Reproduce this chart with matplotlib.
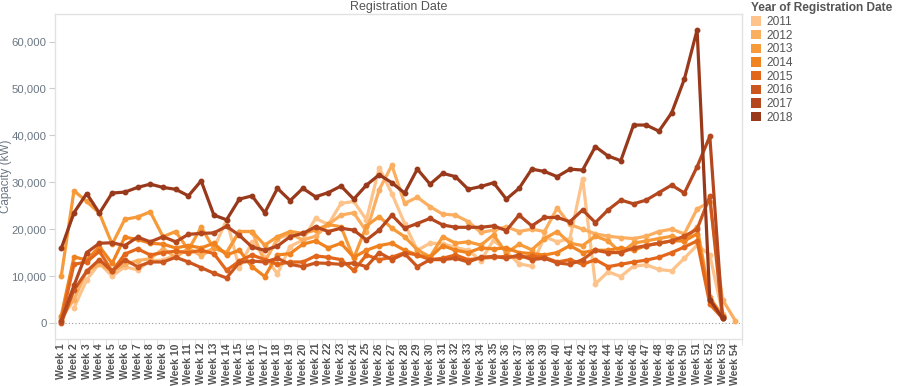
import numpy as np
import matplotlib.pyplot as plt
from matplotlib.patches import Patch

plt.rcParams['font.family'] = ['Liberation Sans', 'DejaVu Sans']

# --- data ---
weeks = np.arange(1, 55)
week_labels = [f"Week {w}" for w in weeks]
years = ["2011", "2012", "2013", "2014", "2015", "2016", "2017", "2018"]
colors = ["#fdc38a", "#fbae60", "#f79a3a", "#f0821f", "#e2671a", "#cc571e", "#b4471e", "#99391b"]

N = np.nan
cap_2011 = [N, 3200, 9200, 12700, 10000, 12000, 11300, 13300, 13400, 14500,
            15500, 14800, 15900, 22000, 11700, 17300, 14100, 10500, 16300, 17700,
            22300, 21000, 25500, 25900, 22000, 33100, 27600, 21200, 15500, 17000,
            16900, 16100, 15500, 13300, 17700, 15200, 12600, 12100, 18400, 17300,
            18000, 30800, 8300, 10900, 9900, 12100, 12400, 11400, 11100, 13800,
            16600, 14500, 2000, N]
cap_2012 = [1000, 5000, 11000, 12500, 11000, 12500, 13300, 13700, 15800, 14000,
            16000, 14300, 16000, 15000, 19500, 19500, 13000, 18000, 19000, 17700,
            18500, 21000, 23000, 23500, 19500, 28400, 33600, 25500, 26800, 24800,
            23200, 23000, 21600, 19300, 19800, 20500, 19500, 20000, 19500, 24500,
            21000, 20000, 19000, 18500, 18200, 18000, 18500, 19500, 20000, 19000,
            24300, 25800, 5000, 500]
cap_2013 = [10000, 28200, 25900, 23400, 16800, 22100, 22600, 23700, 18400, 19500,
            15600, 20400, 15900, 15000, 19500, 19500, 16600, 18400, 19500, 19100,
            19800, 21000, 20500, 13800, 20700, 22700, 20200, 18400, 15600, 14100,
            18400, 17000, 17300, 16600, 18800, 14900, 16800, 15600, 18000, 19500,
            17000, 16500, 18500, 17500, 15000, 17000, 17500, 18000, 18500, 17500,
            20500, 5500, 1500, N]
cap_2014 = [1500, 14100, 13400, 16300, 12700, 18300, 17800, 17000, 16800, 16000,
            16500, 16000, 17000, 14500, 15500, 12000, 9900, 14500, 14800, 16800,
            17500, 16000, 17000, 14000, 15500, 16500, 17000, 15500, 14500, 14000,
            16500, 15500, 15000, 16000, 15800, 16000, 15000, 14800, 14500, 15000,
            16500, 15000, 15500, 15500, 16000, 15500, 16500, 17000, 17500, 17500,
            19000, 5000, 1500, N]
cap_2015 = [500, 12500, 13000, 15300, 11000, 14700, 15800, 14500, 15000, 15300,
            15000, 15500, 14800, 11200, 13200, 14500, 13500, 12500, 13000, 13000,
            14300, 14000, 13500, 11200, 14500, 13500, 14000, 15000, 14500, 13500,
            13800, 14500, 13500, 13800, 14000, 14200, 14000, 14200, 14000, 13000,
            13500, 12500, 13500, 12000, 12500, 13000, 13400, 14000, 15000, 16200,
            17500, 4000, 1000, N]
cap_2016 = [0, 7000, 11000, 13500, 11000, 13500, 12000, 13000, 13000, 14000,
            13000, 11800, 10600, 9600, 12900, 13200, 13000, 13800, 12500, 12000,
            12800, 12700, 12500, 12800, 12000, 15000, 13500, 14800, 12000, 13500,
            13500, 13800, 13000, 14000, 14200, 13800, 14500, 13500, 13800, 12800,
            12500, 13500, 15500, 15000, 15000, 16000, 16500, 17000, 17500, 18500,
            20000, 27000, 1000, N]
cap_2017 = [500, 8000, 15000, 17000, 17100, 16500, 18300, 17300, 18400, 17300,
            18900, 19100, 19200, 20600, 18700, 16200, 15500, 16400, 18400, 19100,
            20500, 19500, 20200, 19800, 17700, 19800, 23000, 20200, 21200, 22300,
            20900, 20400, 20400, 20400, 20700, 19700, 23000, 20700, 22500, 22500,
            21600, 24100, 21400, 24100, 26200, 25400, 26200, 27800, 29400, 27700,
            33300, 39800, 1300, N]
cap_2018 = [15900, 23500, 27600, 23400, 27700, 27900, 28900, 29600, 28900, 28500,
            27100, 30300, 23000, 22000, 26400, 27100, 23500, 28700, 26100, 28700,
            26900, 27800, 29200, 26400, 29400, 31600, 29900, 27700, 32800, 29600,
            31900, 31200, 28500, 29100, 29900, 26400, 28700, 32800, 32300, 31200,
            32800, 32600, 37600, 35600, 34600, 42200, 42200, 40900, 44800, 52000,
            62500, 5000, 1000, N]

series = [cap_2011, cap_2012, cap_2013, cap_2014, cap_2015, cap_2016, cap_2017, cap_2018]

fig = plt.figure(figsize=(9, 3.86), dpi=100)
ax = fig.add_axes([0.061, 0.122, 0.763, 0.842])

for yr, vals, c in zip(years, series, colors):
    ax.plot(weeks, vals, color=c, lw=2.3, marker='o', ms=3.2, solid_joinstyle='round')

ax.axhline(0, color='#999999', lw=0.8, ls=(0, (1, 2)), zorder=0)

ax.set_xlim(0.585, 54.34)
ax.set_ylim(-3400, 65900)
ax.set_yticks([0, 10000, 20000, 30000, 40000, 50000, 60000])
ax.set_yticklabels([f"{v:,}" for v in [0, 10000, 20000, 30000, 40000, 50000, 60000]])
ax.set_xticks(weeks)
ax.set_xticklabels(week_labels, rotation=90, fontsize=7.6, fontweight='bold', color='#555555')
ax.set_xticks(np.arange(0.5, 55, 1), minor=True)
ax.tick_params(axis='x', which='major', length=0, pad=3)
ax.tick_params(axis='x', which='minor', length=4, color='#dddddd')
ax.tick_params(axis='y', length=4, color='#cccccc', labelsize=8.2, labelcolor='#6b7682', pad=2)

for s in ax.spines.values():
    s.set_color('#e2e2e2')
    s.set_linewidth(1)

ax.set_ylabel("Capacity (kW)", fontsize=8.4, color='#6b7682')
ax.yaxis.set_label_coords(-0.063, 0.5)
ax.set_title("Registration Date", fontsize=9, color='#555555', pad=3)

handles = [Patch(facecolor=c, edgecolor='none') for c in colors]
leg = fig.legend(handles, years, loc='upper left', bbox_to_anchor=(0.832, 1.0),
                 frameon=False, fontsize=8.6, title="Year of Registration Date",
                 handlelength=0.85, handleheight=0.85, handletextpad=0.45,
                 labelspacing=0.14, borderaxespad=0, borderpad=0.2, alignment='left')
leg.get_title().set_fontweight('bold')
leg.get_title().set_fontsize(8.6)
leg.get_title().set_color('#555555')
for t in leg.get_texts():
    t.set_color('#555555')

fig.savefig("out.png", dpi=100)
